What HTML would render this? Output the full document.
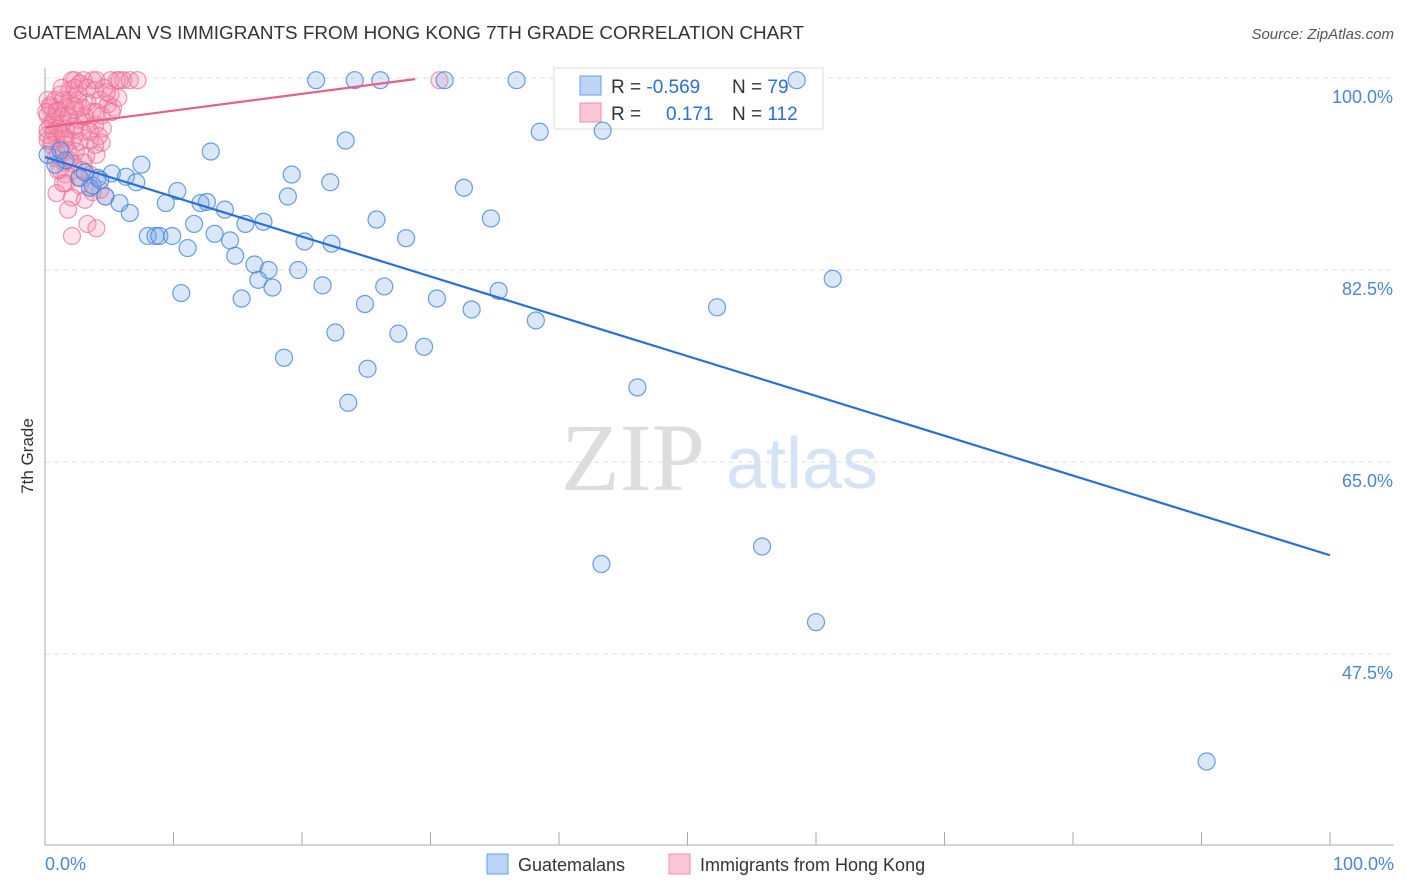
<!DOCTYPE html>
<html><head><meta charset="utf-8"><style>
body{margin:0;background:#fff;font-family:"Liberation Sans",sans-serif;}
svg{display:block}
</style></head><body>
<svg id="chart" width="1406" height="892" viewBox="0 0 1406 892" xmlns="http://www.w3.org/2000/svg">
<text x="13" y="39" font-size="18" fill="#333" textLength="791" lengthAdjust="spacingAndGlyphs">GUATEMALAN VS IMMIGRANTS FROM HONG KONG 7TH GRADE CORRELATION CHART</text>
<text x="1394" y="39" font-size="15" fill="#555" font-style="italic" text-anchor="end">Source: ZipAtlas.com</text>
<g>
<text x="633" y="490" font-size="96" fill="#ddd" font-family="Liberation Serif, serif" text-anchor="middle">ZIP</text>
<text x="802" y="488" font-size="72" fill="#d4e3f5" text-anchor="middle">atlas</text>
</g>
<g id="grid"></g>
<g id="axes"></g>
<g>
<rect x="554" y="68" width="269" height="61" fill="#fff" stroke="#ddd"/>
<rect x="580" y="76" width="21" height="19" fill="#bcd5f5" stroke="#6a9ee6"/>
<rect x="580" y="103" width="21" height="19" fill="#fbc7d6" stroke="#f08cab"/>
<text x="611" y="93" font-size="19" fill="#333">R = <tspan fill="#2a6fd8">-0.569</tspan></text>
<text x="732" y="93" font-size="19" fill="#333">N = <tspan fill="#2a6fd8">79</tspan></text>
<text x="611" y="120" font-size="19" fill="#333">R = <tspan fill="#2a6fd8" x="666">0.171</tspan></text>
<text x="732" y="120" font-size="19" fill="#333">N = <tspan fill="#2a6fd8">112</tspan></text>
</g>
<g id="pink"></g>
<g id="blue"></g>
<g id="trends"></g>
<text transform="translate(33,456) rotate(-90)" font-size="17" fill="#333" text-anchor="middle">7th Grade</text>
<text x="45" y="870" font-size="18" fill="#4a86d8">0.0%</text>
<text x="1394" y="870" font-size="18" fill="#4a86d8" text-anchor="end">100.0%</text>
<g>
<rect x="487" y="854" width="21" height="20" fill="#bcd5f5" stroke="#6a9ee6"/>
<text x="518" y="871" font-size="18" fill="#333">Guatemalans</text>
<rect x="669" y="854" width="21" height="20" fill="#fbc7d6" stroke="#f08cab"/>
<text x="700" y="871" font-size="18" fill="#333">Immigrants from Hong Kong</text>
</g>
</svg>
<script>
const yTicks=[100,82.5,65,47.5];
const yTickLabels=["100.0%","82.5%","65.0%","47.5%"];
const xTicks=[0,10,20,30,40,50,60,70,80,90,100];
const blueX=[21.1,24.1,26.1,31.1,36.7,58.5,38.5,43.4,23.4,12.9,7.5,19.2,5.2,6.3,7.1,4.1,2.7,22.2,32.6,3.7,10.3,18.9,4.7,5.8,9.4,12.1,12.6,14.0,6.6,25.8,34.7,17.0,15.6,11.6,8.0,8.6,8.9,9.9,13.2,14.4,28.1,20.2,22.3,11.1,14.8,16.3,17.4,19.7,16.6,17.7,21.6,26.4,10.6,15.3,30.5,35.3,24.9,33.2,52.3,61.3,38.2,22.6,27.5,29.5,18.6,25.1,46.1,23.6,43.3,55.8,60.0,90.4,0.8,1.6,3.1,1.2,3.5,4.3,0.2];
const blueY=[99.8,99.8,99.8,99.8,99.8,99.8,95.1,95.2,94.3,93.3,92.1,91.2,91.3,91.0,90.5,90.9,90.9,90.5,90.0,90.2,89.7,89.2,89.2,88.6,88.6,88.6,88.7,88.0,87.7,87.1,87.2,86.9,86.7,86.7,85.6,85.6,85.6,85.6,85.8,85.2,85.4,85.1,84.9,84.5,83.8,83.0,82.5,82.5,81.6,80.9,81.1,81.0,80.4,79.9,79.9,80.6,79.4,78.9,79.1,81.7,77.9,76.8,76.7,75.5,74.5,73.5,71.8,70.4,55.7,57.3,50.4,37.7,92.1,92.5,91.4,93.4,90.0,90.7,93.0];
const pinkX=[2.3,2.1,3.0,3.7,4.0,5.1,5.6,6.1,6.6,7.2,30.7,2.7,4.6,3.9,1.9,0.2,0.8,1.4,1.9,2.6,3.3,4.3,4.9,5.3,0.4,1.0,1.6,2.3,2.9,3.7,0.2,0.8,1.3,1.9,2.6,3.2,3.9,4.5,0.4,1.0,1.6,2.3,2.9,0.2,0.9,1.5,2.1,2.7,3.5,4.4,0.5,1.2,1.8,2.4,3.2,4.0,0.8,1.5,2.2,3.0,1.2,1.6,2.6,3.5,1.6,2.7,3.7,0.9,2.1,4.7,1.8,3.3,4.0,2.1,0.4,0.6,1.2,0.1,0.2,0.5,0.9,1.3,1.6,1.0,2.3,3.1,3.5,4.2,5.1,5.7,4.4,3.9,2.6,1.8,0.7,0.2,1.9,2.9,4.3,1.4,3.1,2.3,5.8,4.8,3.3,1.3,1.0,1.6,2.3,4.0,5.2];
const pinkY=[99.8,99.8,99.8,99.8,99.8,99.8,99.8,99.8,99.8,99.8,99.8,99.5,99.1,98.9,98.9,98.0,98.0,98.0,98.0,98.0,97.8,98.0,97.6,97.3,97.3,97.1,97.3,97.1,97.3,96.9,96.6,96.4,96.5,96.4,96.2,96.0,95.7,95.4,95.7,95.4,95.4,95.3,95.1,94.8,94.5,94.7,94.3,94.2,94.3,94.1,93.9,93.6,93.4,93.3,92.9,93.0,92.7,92.3,92.2,92.3,91.6,91.2,90.9,91.2,90.4,90.2,89.6,89.5,89.1,89.2,88.0,86.7,86.3,85.6,97.5,96.0,98.5,96.9,95.3,94.2,96.9,95.8,94.5,93.0,95.6,96.5,95.1,94.7,98.5,98.2,96.6,93.9,98.5,96.6,95.1,94.3,92.5,91.6,89.8,90.4,88.9,99.1,99.8,98.7,99.1,99.1,91.6,93.9,97.4,96.9,96.9];
const blueTrend=[[0,92.8],[100,56.5]];
const pinkTrend=[[0,95.5],[28.8,99.9]];

const NS="http://www.w3.org/2000/svg";
const X0=45,X1=1330,YTOP=78,PX_PER=192/17.5;
const xs=v=>X0+(X1-X0)*v/100;
const ys=v=>YTOP+(100-v)*PX_PER;
function mk(tag,attrs,parent){const e=document.createElementNS(NS,tag);for(const k in attrs)e.setAttribute(k,attrs[k]);parent.appendChild(e);return e;}
const grid=document.getElementById('grid');
yTicks.forEach((t,i)=>{
  const l=mk('line',{x1:X0,x2:1394,y1:ys(t),y2:ys(t),stroke:'#ddd','stroke-dasharray':'5,4'},grid);
  
  
  const tx=mk('text',{x:1393,y:ys(t)+25,'font-size':18,fill:'#4a86d8','text-anchor':'end'},grid);
  tx.textContent=yTickLabels[i];
  
  
});
const axes=document.getElementById('axes');
const ya=mk('line',{x1:X0,x2:X0,y1:68,y2:845,stroke:'#aaa'},axes);


const xa=mk('line',{x1:X0,x2:1394,y1:845,y2:845,stroke:'#aaa'},axes);


xTicks.forEach(t=>{
  const l=mk('line',{x1:xs(t),x2:xs(t),y1:832,y2:845,stroke:'#aaa'},axes);
  
  
});
const pg=document.getElementById('pink');
pinkX.forEach((v,i)=>{
  const c=mk('circle',{cx:xs(v),cy:ys(pinkY[i]),r:8.5,fill:'rgba(244,140,172,0.25)',stroke:'rgba(236,110,150,0.7)','stroke-width':1.2},pg);
  
  
});
const bg=document.getElementById('blue');
blueX.forEach((v,i)=>{
  const c=mk('circle',{cx:xs(v),cy:ys(blueY[i]),r:8.5,fill:'rgba(120,170,235,0.28)',stroke:'rgba(70,135,220,0.8)','stroke-width':1.2},bg);
  
  
});
const tg=document.getElementById('trends');
const bt=mk('line',{x1:xs(blueTrend[0][0]),y1:ys(blueTrend[0][1]),x2:xs(blueTrend[1][0]),y2:ys(blueTrend[1][1]),stroke:'#2a6fd8','stroke-width':2.2},tg);


const pt=mk('line',{x1:xs(pinkTrend[0][0]),y1:ys(pinkTrend[0][1]),x2:xs(pinkTrend[1][0]),y2:ys(pinkTrend[1][1]),stroke:'#e8608a','stroke-width':2.2},tg);


</script>
</body></html>
